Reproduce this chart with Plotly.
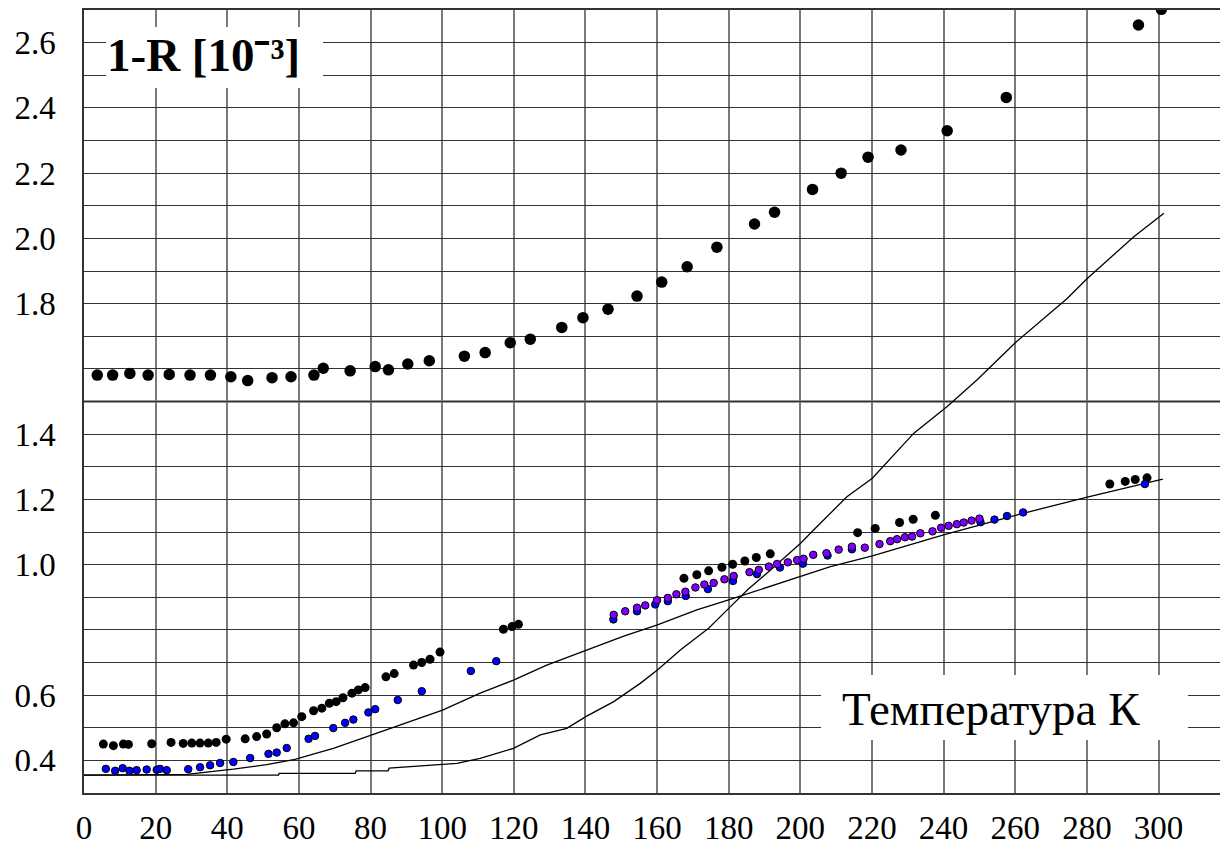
import plotly.graph_objects as go

# ---- data ----
upper_x = [3.7, 8.0, 12.8, 17.9, 23.8, 29.6, 35.3, 41.0, 45.7, 52.5, 57.8, 64.2, 66.8, 74.3, 81.3,
           85.0, 90.4, 96.4, 106.2, 112.0, 119.0, 124.6, 133.4, 139.3, 146.3, 154.4, 161.3, 168.4,
           176.7, 187.2, 192.8, 203.4, 211.4, 218.9, 228.1, 241.0, 257.5, 294.4, 300.8]
upper_y = [1.581, 1.581, 1.586, 1.581, 1.583, 1.581, 1.581, 1.576, 1.564, 1.573, 1.576, 1.581, 1.602,
           1.594, 1.607, 1.597, 1.615, 1.625, 1.639, 1.650, 1.680, 1.691, 1.727, 1.757, 1.783, 1.823,
           1.866, 1.913, 1.973, 2.044, 2.080, 2.150, 2.200, 2.249, 2.271, 2.330, 2.432, 2.654, 2.702]

black_x = [5.4, 8.2, 11.0, 12.4, 18.9, 24.3, 27.7, 30.1, 32.4, 34.7, 36.9, 39.7, 45.0, 48.2, 51.0,
           53.8, 56.1, 58.5, 60.8, 64.1, 66.4, 68.5, 70.4, 72.3, 74.8, 76.6, 78.5, 84.3, 86.6, 92.0,
           94.3, 96.6, 99.4, 117.1, 119.5, 121.3, 167.5, 171.1, 174.4, 178.1, 181.1, 184.5, 187.7,
           191.6, 216.0, 220.9, 227.7, 231.5, 237.7, 286.4, 290.7, 293.5, 296.8]
black_y = [0.450, 0.445, 0.450, 0.449, 0.451, 0.455, 0.452, 0.453, 0.453, 0.453, 0.455, 0.465, 0.466,
           0.473, 0.481, 0.500, 0.512, 0.515, 0.534, 0.552, 0.560, 0.575, 0.580, 0.592, 0.606, 0.616,
           0.623, 0.656, 0.666, 0.692, 0.700, 0.710, 0.732, 0.802, 0.810, 0.817, 0.958, 0.969, 0.981,
           0.992, 1.001, 1.011, 1.022, 1.033, 1.098, 1.111, 1.129, 1.139, 1.151, 1.247, 1.255, 1.261,
           1.266]

blue_x = [6.1, 8.7, 10.8, 12.7, 14.7, 17.5, 20.3, 21.2, 23.1, 29.1, 32.4, 35.2, 38.0, 41.7, 46.4,
          51.5, 53.8, 56.6, 62.7, 64.5, 69.6, 72.9, 75.2, 79.4, 81.3, 87.6, 94.3, 108.0, 115.1, 147.8,
          154.4, 159.5, 163.0, 168.0, 174.2, 181.2, 187.9, 194.3, 200.7, 207.6, 214.4, 250.3, 254.2,
          257.7, 262.2, 296.2]
blue_y = [0.374, 0.368, 0.376, 0.368, 0.370, 0.372, 0.371, 0.374, 0.370, 0.373, 0.379, 0.385, 0.392,
          0.395, 0.407, 0.420, 0.424, 0.438, 0.466, 0.475, 0.499, 0.515, 0.525, 0.547, 0.557, 0.585,
          0.612, 0.674, 0.704, 0.832, 0.857, 0.878, 0.888, 0.904, 0.925, 0.950, 0.971, 0.991, 1.003,
          1.028, 1.047, 1.130, 1.138, 1.149, 1.160, 1.247]

purple_x = [147.9, 151.1, 154.4, 156.7, 160.0, 163.0, 165.4, 167.9, 170.7, 173.2, 175.8, 178.8, 181.4,
            185.8, 188.4, 191.2, 193.5, 196.5, 199.1, 200.9, 203.6, 207.3, 210.7, 214.4, 218.0, 222.1,
            225.1, 227.0, 229.2, 231.2, 233.5, 236.9, 239.3, 241.4, 243.7, 245.6, 247.8, 250.0]
purple_y = [0.846, 0.857, 0.868, 0.875, 0.891, 0.898, 0.909, 0.917, 0.930, 0.939, 0.944, 0.955, 0.965,
            0.977, 0.984, 0.994, 1.002, 1.007, 1.014, 1.018, 1.030, 1.035, 1.046, 1.055, 1.052, 1.063,
            1.072, 1.078, 1.084, 1.086, 1.096, 1.102, 1.113, 1.119, 1.124, 1.129, 1.135, 1.141]

curve1_x = [0, 28.7, 41.7, 51.0, 58.9, 69.6, 79.0, 88.3, 100.1, 110.6, 119.9, 129.2, 140.1, 150.7,
            160.1, 171.1, 180.0, 189.8, 200.1, 208.4, 220.1, 240.0, 260.3, 280.1, 301.2]
curve1_y = [0.355, 0.357, 0.373, 0.387, 0.403, 0.437, 0.473, 0.508, 0.554, 0.606, 0.646, 0.692, 0.736,
            0.781, 0.815, 0.861, 0.892, 0.927, 0.965, 0.994, 1.027, 1.091, 1.152, 1.207, 1.262]

curve2_x = [0, 54.3, 54.5, 75.7, 76.0, 84.9, 85.2, 92.0, 104.1, 110.6, 119.9, 127.4, 134.8, 140.1,
            147.9, 155.3, 160.1, 166.5, 174.4, 180.0, 185.5, 191.6, 200.0, 203.7, 213.0, 220.1, 231.7,
            241.0, 249.3, 260.3, 274.5, 280.1, 293.1, 301.5]
curve2_y = [0.355, 0.355, 0.360, 0.360, 0.368, 0.368, 0.376, 0.381, 0.391, 0.406, 0.437, 0.478, 0.498,
            0.534, 0.580, 0.636, 0.677, 0.738, 0.805, 0.866, 0.925, 0.983, 1.065, 1.106, 1.208, 1.265,
            1.403, 1.485, 1.566, 1.683, 1.816, 1.877, 2.005, 2.077]

x_ticks = [0, 20, 40, 60, 80, 100, 120, 140, 160, 180, 200, 220, 240, 260, 280, 300]
y_grid = [round(0.3 + 0.1 * i, 1) for i in range(25)]
y_labels = {0.4: "0.4", 0.6: "0.6", 1.0: "1.0", 1.2: "1.2", 1.4: "1.4", 1.8: "1.8",
            2.0: "2.0", 2.2: "2.2", 2.4: "2.4", 2.6: "2.6"}
y_ticktext = [y_labels.get(v, "") for v in y_grid]

FONT = "Liberation Serif"
TICKFONT = dict(family=FONT, size=33, color="black")

fig = go.Figure()
fig.add_trace(go.Scatter(x=curve1_x, y=curve1_y, mode="lines",
                         line=dict(color="black", width=1.3), showlegend=False))
fig.add_trace(go.Scatter(x=curve2_x, y=curve2_y, mode="lines",
                         line=dict(color="black", width=1.3), showlegend=False))
fig.add_trace(go.Scatter(x=black_x, y=black_y, mode="markers",
                         marker=dict(color="black", size=9), showlegend=False))
fig.add_trace(go.Scatter(x=blue_x, y=blue_y, mode="markers",
                         marker=dict(color="#0000ff", size=7.5, line=dict(color="black", width=1)),
                         showlegend=False))
fig.add_trace(go.Scatter(x=purple_x, y=purple_y, mode="markers",
                         marker=dict(color="#8000ff", size=7.5, line=dict(color="black", width=1)),
                         showlegend=False))
fig.add_trace(go.Scatter(x=upper_x, y=upper_y, mode="markers",
                         marker=dict(color="black", size=11.5), showlegend=False))

# emphasised grid line
fig.add_shape(type="line", xref="paper", x0=0, x1=1, yref="y", y0=1.5, y1=1.5,
              line=dict(color="#333", width=2), layer="below")
# clip bottom of the lowest y label as in the reference
fig.add_shape(type="rect", xref="paper", yref="paper", x0=-0.07, x1=-0.004, y0=-0.001, y1=0.028,
              fillcolor="white", line=dict(width=0), layer="above")
# white label boxes
fig.add_shape(type="rect", xref="x", yref="y", x0=6.14, x1=66.73, y0=2.461, y1=2.648,
              fillcolor="white", line=dict(width=0), layer="above")
fig.add_shape(type="rect", xref="x", yref="y", x0=205.8, x1=308.2, y0=0.4625, y1=0.6617,
              fillcolor="white", line=dict(width=0), layer="above")

fig.add_annotation(x=5.9, y=2.562, xref="x", yref="y", xanchor="left",
                   text="<b>1-R [10\u207b\u00b3]</b>", showarrow=False,
                   font=dict(family=FONT, size=47, color="black"))
fig.add_annotation(x=211.1, y=0.556, xref="x", yref="y", xanchor="left",
                   text="Температура К", showarrow=False,
                   font=dict(family=FONT, size=47, color="black"))

fig.update_layout(
    width=1220, height=837,
    margin=dict(l=76, r=0, t=2, b=52, autoexpand=False),
    paper_bgcolor="white", plot_bgcolor="white",
    font=dict(family=FONT, size=33, color="black"),
    xaxis=dict(range=[0, 319.4], tickmode="array", tickvals=x_ticks,
               ticktext=[str(v) for v in x_ticks], automargin=False, tickfont=TICKFONT,
               showgrid=True, gridcolor="#7a7a7a", gridwidth=1.5,
               showline=True, linecolor="#333", linewidth=1.5, mirror=True,
               zeroline=False, ticks="", ticklabelstandoff=5),
    yaxis=dict(range=[0.3, 2.7], tickmode="array", tickvals=y_grid, ticktext=y_ticktext,
               automargin=False, tickfont=TICKFONT,
               showgrid=True, gridcolor="#333", gridwidth=1.1,
               showline=True, linecolor="#333", linewidth=1.5, mirror=True,
               zeroline=False, ticks="", ticklabelstandoff=20),
)

fig.write_html("out.html")
